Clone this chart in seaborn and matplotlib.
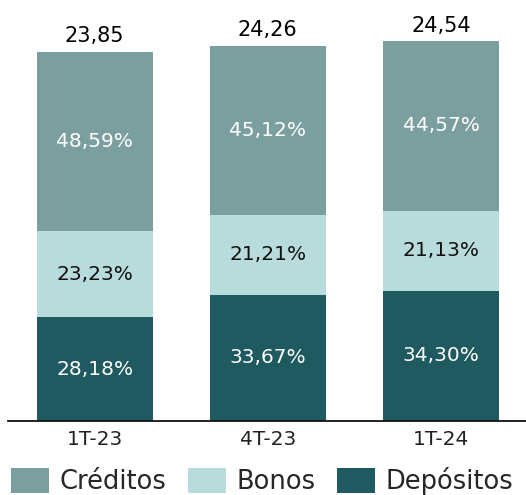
import pandas as pd
import seaborn as sns
import matplotlib.pyplot as plt

# Datos del gráfico
periodos = ["1T-23", "4T-23", "1T-24"]
totales = [23.85, 24.26, 24.54]
pct_depositos = [28.18, 33.67, 34.30]
pct_bonos = [23.23, 21.21, 21.13]
pct_creditos = [48.59, 45.12, 44.57]

colores = {"Créditos": "#7b9f9e", "Bonos": "#b8dbdb", "Depósitos": "#1e5a60"}
color_texto = {"Créditos": "white", "Bonos": "#111111", "Depósitos": "white"}


def fmt(v, dec=2):
    return f"{v:.{dec}f}".replace(".", ",")


sns.set_theme(style="white")
plt.rcParams["font.family"] = ["DejaVu Sans"]

fig = plt.figure(figsize=(5.26, 4.95), dpi=100)
ax = fig.add_axes([8 / 526, 74 / 495, 518 / 526, 410 / 495])

# Construir la tabla larga con valores absolutos
filas = []
for i, p in enumerate(periodos):
    base = 0.0
    for serie, pcts in [("Depósitos", pct_depositos), ("Bonos", pct_bonos), ("Créditos", pct_creditos)]:
        valor = totales[i] * pcts[i] / 100
        filas.append({"periodo": p, "serie": serie, "valor": valor, "base": base, "pct": pcts[i]})
        base += valor
df = pd.DataFrame(filas)

for serie in ["Depósitos", "Bonos", "Créditos"]:
    sub = df[df["serie"] == serie]
    sns.barplot(data=sub, x="periodo", y="valor", bottom=sub["base"].values,
                color=colores[serie], width=0.67, ax=ax, saturation=1, label=serie,
                order=periodos, linewidth=0, edgecolor="none")
    for i, (_, r) in enumerate(sub.iterrows()):
        ax.text(i, r["base"] + r["valor"] / 2, fmt(r["pct"]) + "%", ha="center", va="center",
                fontsize=14.5, color=color_texto[serie])

# Totales sobre cada barra
for i, t in enumerate(totales):
    ax.annotate(fmt(t), (i, t), xytext=(0, 4), textcoords="offset points",
                ha="center", va="bottom", fontsize=15, color="#000000")

ax.set_xlim(-0.5, 2.49)
ax.set_ylim(0, 26.5)
ax.set_xlabel("")
ax.set_ylabel("")
ax.set_yticks([])
ax.tick_params(axis="x", length=0, pad=6.5, labelsize=14.5, labelcolor="#222222")
for s in ["top", "left", "right"]:
    ax.spines[s].set_visible(False)
ax.spines["bottom"].set_color("#111111")
ax.spines["bottom"].set_linewidth(1.3)

if ax.get_legend():
    ax.get_legend().remove()
handles, labels = ax.get_legend_handles_labels()
orden = ["Créditos", "Bonos", "Depósitos"]
h = [handles[labels.index(o)] for o in orden]
fig.legend(h, orden, loc="center", bbox_to_anchor=(262 / 526, 14 / 495), ncol=3,
           frameon=False, fontsize=18.5, handlelength=1.48, handleheight=1.1,
           handletextpad=0.4, columnspacing=0.85, borderaxespad=0, borderpad=0)

plt.savefig("out.png", dpi=100)
plt.close()
